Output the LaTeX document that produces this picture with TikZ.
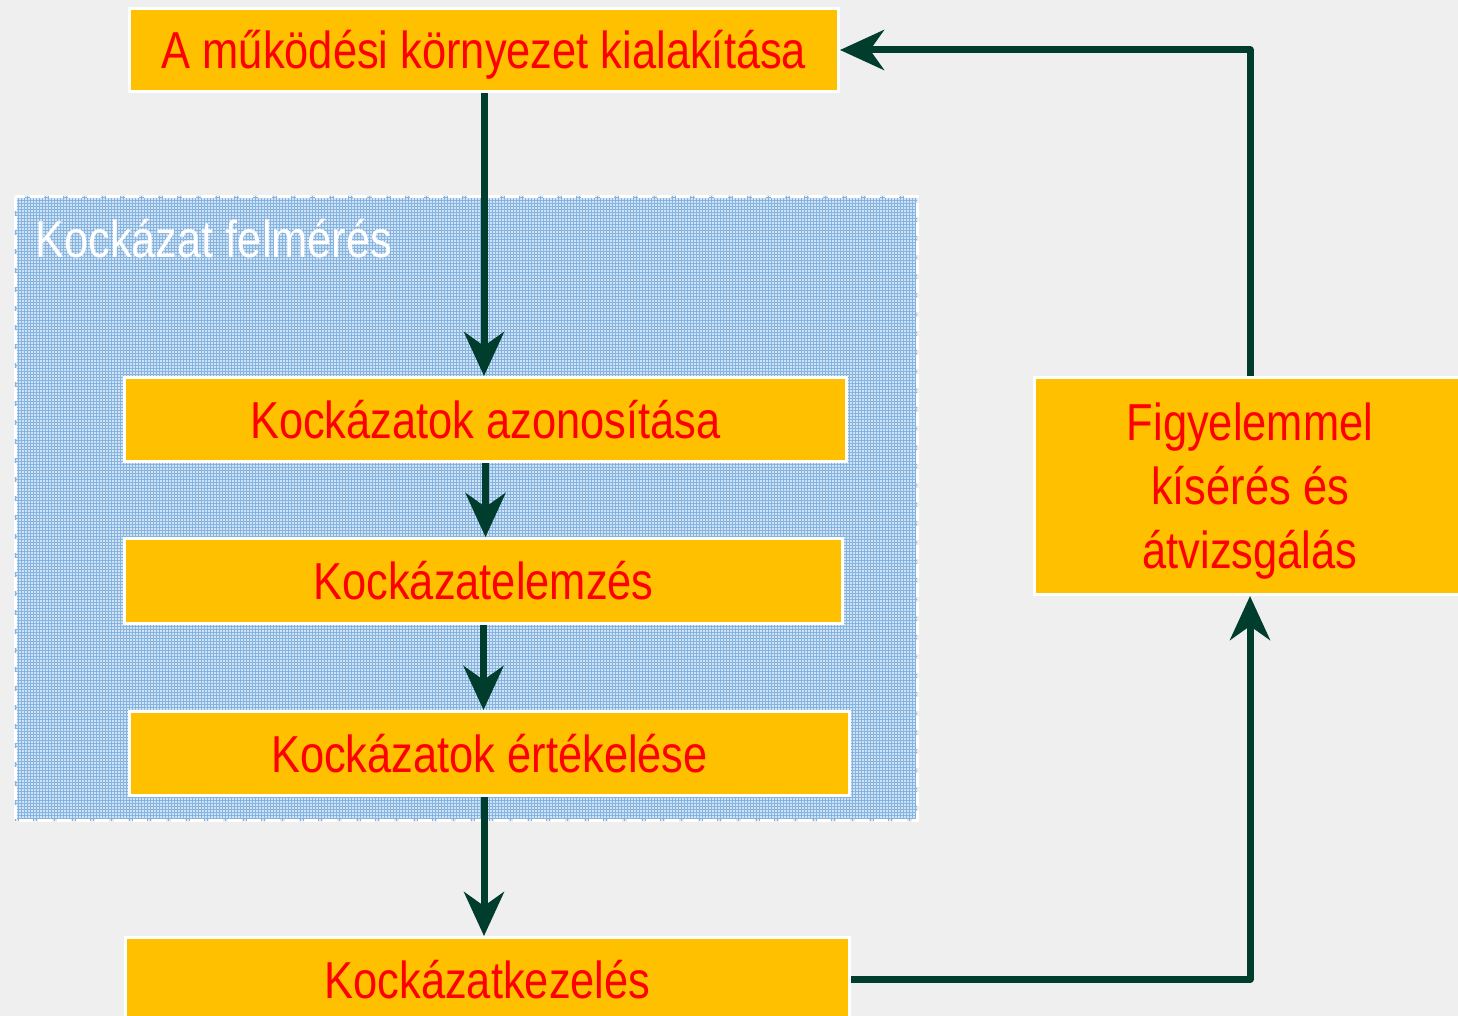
\documentclass[tikz,border=0pt]{standalone}
\usepackage{fontspec}
\setmainfont{Liberation Sans}
\newfontfamily\narrowfont[FakeStretch=0.835]{Liberation Sans}
\usetikzlibrary{arrows.meta,patterns}
\definecolor{bg}{HTML}{EFEFEF}
\definecolor{gold}{HTML}{FFC000}
\definecolor{arr}{HTML}{013D2C}
\definecolor{gridblue}{HTML}{86B4E0}
\definecolor{lightblue}{HTML}{D0E2F3}
\begin{document}
\begin{tikzpicture}[x=1pt,y=-1pt,
  stepbox/.style={draw=white, line width=3pt, fill=gold, text=red,
    font=\narrowfont\fontsize{52}{64}\selectfont, inner sep=0pt,
    text height=37pt, text depth=0pt, align=center},
  conn/.style={draw=arr, line width=7pt, line join=round,
    -{Stealth[length=44pt,width=40pt,inset=14pt]}},
  regionlabel/.style={text=white, font=\narrowfont\fontsize{52}{62}\selectfont, inner sep=0pt}
]
\useasboundingbox (0,0) rectangle (1458,1016);
\clip (0,0) rectangle (1458,1016);
\fill[bg] (0,0) rectangle (1458,1016);

% risk assessment region
\fill[lightblue] (15,197) rectangle (917,820);
\fill[pattern=grid, pattern color=gridblue] (15,197) rectangle (917,820);
\draw[white, line width=3pt, dash pattern=on 14pt off 5pt] (15,197) rectangle (917,820);
\node[regionlabel, anchor=base west] (lbl) at (35,258) {Kockázat felmérés};

% boxes
\node[stepbox, minimum width=709pt, minimum height=83pt] (env) at (484,50) {A működési környezet kialakítása};
\node[stepbox, minimum width=722pt, minimum height=84pt] (ident) at (485.5,419.5) {Kockázatok azonosítása};
\node[stepbox, minimum width=718pt, minimum height=85pt] (anal) at (483.5,581) {Kockázatelemzés};
\node[stepbox, minimum width=720pt, minimum height=84pt] (eval) at (489.5,753.5) {Kockázatok értékelése};
\node[stepbox, minimum width=724pt, minimum height=84pt] (treat) at (487.5,979.5) {Kockázatkezelés};
\node[stepbox, minimum width=431pt, minimum height=217pt, text height=165pt] (mon) at (1250,486) {Figyelemmel\\kísérés és\\átvizsgálás};

% connectors
\draw[conn] (env.south) -- (env.south |- ident.north);
\draw[conn] (ident.south) -- (ident.south |- anal.north);
\draw[conn] (anal.south) -- (anal.south |- eval.north);
\draw[conn] (env.south |- eval.south) -- (env.south |- treat.north);
\draw[conn] (treat.east) -- (treat.east -| mon.south) -- (mon.south);
\draw[conn] (mon.north) |- (env.east);
\end{tikzpicture}
\end{document}
